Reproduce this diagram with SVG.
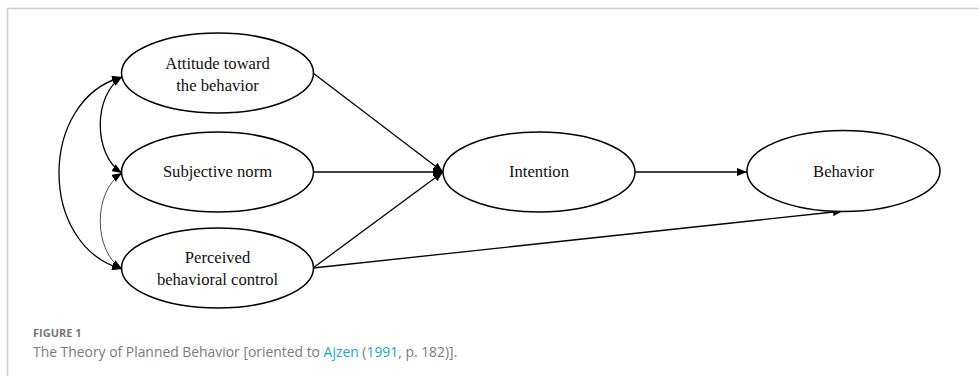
<svg xmlns="http://www.w3.org/2000/svg" width="979" height="376" viewBox="0 0 979 376">
  <style>
    .node ellipse { fill: #ffffff; stroke: #000000; stroke-width: 1.5; }
    .node text { font-family: "Liberation Serif", "Times New Roman", serif; font-size: 16.6px; fill: #111111; text-anchor: middle; }
    .edge { fill: none; stroke: #000000; stroke-width: 1.3; }
    .thin { stroke-width: 0.7; }
    .cap-label { font-family: "Open Sans", "Noto Sans", sans-serif; font-size: 11px; font-weight: 700; fill: #777777; }
    .cap-text { font-family: "Open Sans", "Noto Sans", sans-serif; font-size: 13.9px; fill: #7a7a7a; }
    .link { fill: #1aa6c8; }
  </style>
  <defs>
    <marker id="arrow" viewBox="0 0 10 8" refX="10" refY="4" markerWidth="10" markerHeight="8" markerUnits="userSpaceOnUse" orient="auto-start-reverse">
      <path d="M0,0 L10,4 L0,8 Z" fill="#000000"/>
    </marker>
  </defs>

  <rect width="979" height="376" fill="#ffffff"/>
  <!-- panel frame -->
  <path d="M7.5,376 V8.5 H979" fill="none" stroke="#cccccc" stroke-width="1.5"/>

  <!-- connectors -->
  <g id="connectors">
    <path class="edge" d="M122,77 C38,100 38,246 122,269" marker-start="url(#arrow)" marker-end="url(#arrow)"/>
    <path class="edge" d="M122,77 C93,95 93,155 122,173" marker-start="url(#arrow)" marker-end="url(#arrow)"/>
    <path class="edge thin" d="M122,173 C93,191 93,251 122,269" marker-start="url(#arrow)" marker-end="url(#arrow)"/>
    <path class="edge" d="M313,73 L443,172" marker-end="url(#arrow)"/>
    <path class="edge" d="M313,172 L443,172" marker-end="url(#arrow)"/>
    <path class="edge" d="M313,268 L443,172" marker-end="url(#arrow)"/>
    <path class="edge" d="M313,268 L843,211" marker-end="url(#arrow)"/>
    <path class="edge" d="M635,172 L747,172" marker-end="url(#arrow)"/>
  </g>

  <g id="attitude" class="node">
    <ellipse cx="217.5" cy="73" rx="96" ry="40"/>
    <text x="217.5" y="69">Attitude toward</text>
    <text x="217.5" y="91">the behavior</text>
  </g>
  <g id="subjective-norm" class="node">
    <ellipse cx="217.5" cy="172" rx="96" ry="40"/>
    <text x="217.5" y="177">Subjective norm</text>
  </g>
  <g id="perceived-control" class="node">
    <ellipse cx="217.5" cy="268" rx="96" ry="40"/>
    <text x="217.5" y="263">Perceived</text>
    <text x="217.5" y="285">behavioral control</text>
  </g>
  <g id="intention" class="node">
    <ellipse cx="539" cy="172" rx="96" ry="40"/>
    <text x="539" y="177">Intention</text>
  </g>
  <g id="behavior" class="node">
    <ellipse cx="843.5" cy="171" rx="96.5" ry="40.5"/>
    <text x="843.5" y="177">Behavior</text>
  </g>

  <!-- caption -->
  <text class="cap-label" x="33" y="337">FIGURE 1</text>
  <text class="cap-text" x="33" y="357">The Theory of Planned Behavior [oriented to <tspan class="link">Ajzen</tspan> (<tspan class="link">1991</tspan>, p. 182)].</text>
</svg>
